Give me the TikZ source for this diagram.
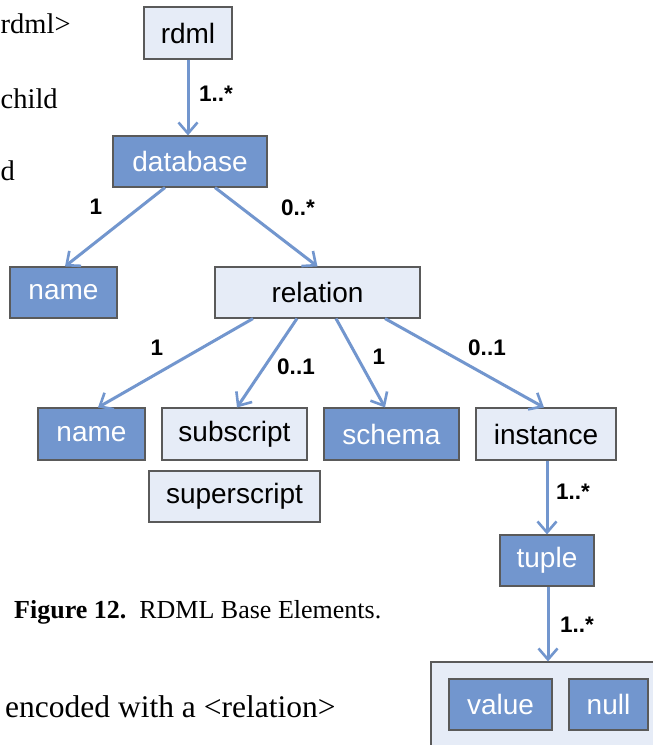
\documentclass[tikz,border=0pt]{standalone}
\usepackage{fontspec}
\setmainfont{Liberation Serif}
\setsansfont{Liberation Sans}
\usetikzlibrary{arrows.meta}
\definecolor{elemdark}{RGB}{114,150,206}
\definecolor{elemlight}{RGB}{230,236,247}
\definecolor{elemedge}{RGB}{90,90,90}
\begin{document}
\begin{tikzpicture}[x=1pt,y=-1pt,
  elem/.style={draw=elemedge,line width=1.1pt,inner sep=0pt,
    font=\sffamily\fontsize{28}{32}\selectfont},
  darkelem/.style={elem,fill=elemdark,text=white},
  lightelem/.style={elem,fill=elemlight,text=black},
  link/.style={draw=elemdark,line width=3pt,
    -{Straight Barb[length=11pt,width=19pt,line width=2.6pt]}},
  mult/.style={font=\sffamily\bfseries\fontsize{22.5}{24}\selectfont,inner sep=0pt},
  body/.style={font=\rmfamily\fontsize{31.5}{36}\selectfont,inner sep=0pt},
  margintext/.style={font=\rmfamily\fontsize{28.5}{32}\selectfont,inner sep=0pt,anchor=base west},
]
\useasboundingbox (0,0) rectangle (653,745);
\clip (0,0) rectangle (653,745);
\fill[white] (0,0) rectangle (653,745);

% surrounding page text
\node[margintext] (t1) at (0.5,33) {rdml>};
\node[margintext] (t2) at (0.5,108) {child};
\node[margintext] (t3) at (0.5,180) {d};
\node[font=\rmfamily\fontsize{26}{30}\selectfont,inner sep=0pt,anchor=base west] (cap) at (14,618)
  {\textbf{Figure 12.}\ \ RDML Base Elements.};
\node[body,anchor=base west] (t4) at (5,717) {encoded with a <relation>};

% element boxes
\node[lightelem,minimum width=88pt,minimum height=52pt] (rdml) at (188,33) {rdml};
\node[darkelem,minimum width=154pt,minimum height=51pt] (database) at (190,161.5) {database};
\node[darkelem,minimum width=107pt,minimum height=51pt] (name1) at (63.5,292.5) {name};
\node[lightelem,minimum width=205pt,minimum height=51pt] (relation) at (317.5,292.5) {relation};
\node[darkelem,minimum width=107pt,minimum height=52pt] (name2) at (91.5,434) {name};
\node[lightelem,minimum width=145pt,minimum height=52pt] (subscript) at (234.5,434) {subscript};
\node[darkelem,minimum width=135pt,minimum height=52pt] (schema) at (391.5,434) {schema};
\node[lightelem,minimum width=140pt,minimum height=52pt] (instance) at (546,434) {instance};
\node[lightelem,minimum width=171pt,minimum height=51pt] (superscript) at (234.5,496.5) {superscript};
\node[darkelem,minimum width=94pt,minimum height=51pt] (tuple) at (547,560.5) {tuple};
\node[lightelem,minimum width=240pt,minimum height=100pt] (cells) at (551,712) {};
\node[darkelem,minimum width=103pt,minimum height=51pt] (value) at (500.5,704.5) {value};
\node[darkelem,minimum width=79pt,minimum height=51pt] (null) at (608.5,704.5) {null};

% containment links
\draw[link] (rdml.south) -- (rdml.south |- database.north);
\draw[link] ([xshift=-25pt]database.south) -- ([xshift=1.5pt]name1.north);
\draw[link] ([xshift=25pt]database.south) -- (relation.north);
\draw[link] ([xshift=-64.5pt]relation.south) -- ([xshift=6.5pt]name2.north);
\draw[link] ([xshift=-20.5pt]relation.south) -- ([xshift=2.5pt]subscript.north);
\draw[link] ([xshift=18.5pt]relation.south) -- ([xshift=-6.5pt]schema.north);
\draw[link] ([xshift=67.5pt]relation.south) -- ([xshift=-2pt]instance.north);
\draw[link] ([xshift=1pt]instance.south) -- ([xshift=0pt]tuple.north);
\draw[link] ([xshift=1pt]tuple.south) -- ([xshift=1pt]tuple.south |- cells.north);

% multiplicities
\node[mult] (m1) at (216,94) {1..*};
\node[mult] (m2) at (96,207) {1};
\node[mult] (m3) at (298,208) {0..*};
\node[mult] (m4) at (157,348) {1};
\node[mult] (m5) at (296,367) {0..1};
\node[mult] (m6) at (379,357) {1};
\node[mult] (m7) at (487,348) {0..1};
\node[mult] (m8) at (573,492) {1..*};
\node[mult] (m9) at (577,625) {1..*};
\end{tikzpicture}
\end{document}
